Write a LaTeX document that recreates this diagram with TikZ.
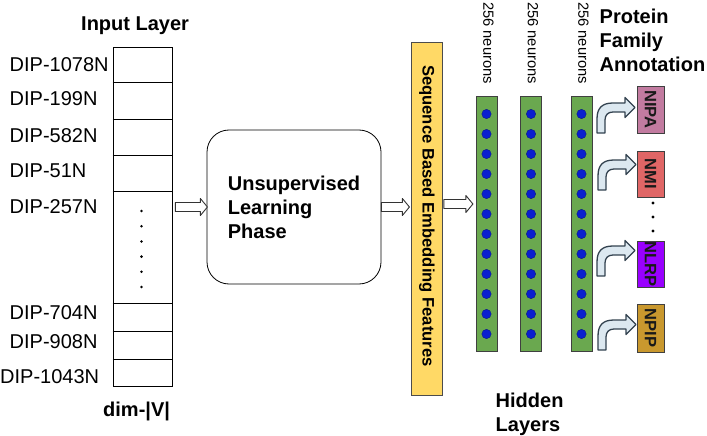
\documentclass[tikz,border=0pt]{standalone}
\usepackage{fontspec}
\setmainfont{Liberation Sans}
\usetikzlibrary{arrows.meta,calc}

\definecolor{embyellow}{HTML}{FFD966}
\definecolor{hidgreen}{HTML}{6AA84F}
\definecolor{neublue}{HTML}{0A1ECF}
\definecolor{nipacol}{HTML}{C27BA0}
\definecolor{nmicol}{HTML}{E06666}
\definecolor{nlrpcol}{HTML}{9900FF}
\definecolor{npipcol}{HTML}{C9982E}
\definecolor{bentfill}{HTML}{DCE8F0}
\definecolor{bentline}{HTML}{33424F}

\tikzset{
  bentarr/.pic={
    \path[bent] (0,0) -- (0,-14) .. controls (0,-25) and (5,-30) .. (16,-30)
      -- (28,-30) -- (28,-35.5) -- (38,-25.5) -- (28,-15.5) -- (28,-21)
      -- (16,-21) .. controls (11,-21) and (8,-18) .. (8,-13) -- (8,0) -- cycle;
  },
  hollowarr/.pic={
    \path[hollow] (0,-4.5) -- (#1-7,-4.5) -- (#1-7,-8.5) -- (#1,0)
      -- (#1-7,8.5) -- (#1-7,4.5) -- (0,4.5) -- cycle;
  }
}

\begin{document}
\begin{tikzpicture}[x=1pt,y=-1pt,
  every node/.style={inner sep=0pt},
  dip/.style={anchor=base west,font=\fontsize{20}{24}\selectfont},
  title/.style={align=left,font=\fontsize{20}{24}\selectfont\bfseries},
  hollow/.style={draw=black!80,fill=white,line width=0.9pt,line join=round},
  layer/.style={draw=black!75,fill=hidgreen,line width=0.8pt,minimum width=21pt,minimum height=255pt},
  neuron/.style={fill=neublue,draw=neublue!60!black,line width=0.3pt},
  neurtxt/.style={rotate=-90,font=\fontsize{14.7}{17}\selectfont},
  outbox/.style={draw=black!75,line width=0.8pt,minimum width=27pt},
  outtxt/.style={rotate=-90,font=\fontsize{16.5}{20}\selectfont\bfseries,text=black!90},
  bent/.style={draw=bentline,fill=bentfill,line width=1.3pt,line join=round},
]
\useasboundingbox (0,0) rectangle (707,436);

% input layer
\node[title,anchor=base west] (inl) at (81,31) {Input Layer};
\node[draw,line width=0.8pt,minimum width=59pt,minimum height=339pt] (inp) at (142.5,216.5) {};
\foreach \y in {82,119,155,191,303,331,359}
  \draw[line width=0.8pt] (inp.west |- 0,\y) -- (inp.east |- 0,\y);
\foreach \k in {0,...,5}
  \fill (141.5,{211+15.2*\k}) circle (1.4pt);
\foreach \t/\y [count=\i] in {DIP-1078N/71,DIP-199N/106,DIP-582N/142,DIP-51N/177,DIP-257N/213,DIP-704N/319,DIP-908N/348}
  \node[dip] (dip\i) at (9.5,\y) {\t};
\node[dip] (dip8) at (0,383) {DIP-1043N};
\node[title,anchor=base west] (dim) at (103,416) {dim-|V|};

% unsupervised phase
\node[draw,rounded corners=22pt,line width=0.8pt,minimum width=174pt,minimum height=154pt,
  title] (ulp) at (294,207) {Unsupervised\\Learning\\Phase};

% embedding features
\node[draw=black!70,fill=embyellow,line width=0.8pt,minimum width=31pt,minimum height=353pt] (emb) at (426.5,218.5) {};
\node[rotate=-90,font=\fontsize{16.6}{20}\selectfont\bfseries] (embtxt) at (427,216) {Sequence Based Embedding Features};
\coordinate (embout) at ([yshift=14.5pt]emb.east);

\pic[xshift=3pt] at (inp.east |- ulp.west) {hollowarr=32};
\pic at (ulp.east) {hollowarr=28};

% hidden layers
\foreach \x/\n in {486.5/h1,531/h2,581.5/h3} {
  \node[layer] (\n) at (\x,223.5) {};
  \foreach \k in {0,...,11}
    \fill[neuron] (\x,{114+20*\k}) circle (4.7pt);
  \node[neurtxt] (\n txt) at (\x+2,43) {256 neurons};
}
\pic[xshift=1.5pt] at (embout) {hollowarr=29};
\node[title,anchor=north west] (hid) at (495.5,392.4) {Hidden\\Layers};

% protein family annotation
\node[title,anchor=north west] (pfa) at (599.5,8.7) {Protein\\Family\\Annotation};
\node[outbox,fill=nipacol,minimum height=47pt] (nipa) at (650.5,109.5) {};
\node[outtxt] (nipatxt) at (nipa) {NIPA};
\node[outbox,fill=nmicol,minimum height=46pt] (nmi) at (650.5,174) {};
\node[outtxt] (nmitxt) at (nmi) {NMI};
\node[outbox,fill=nlrpcol,minimum height=46pt] (nlrp) at (650.5,264) {};
\node[outtxt] (nlrptxt) at (nlrp) {NLRP};
\node[outbox,fill=npipcol,minimum height=48pt] (npip) at (650.5,328) {};
\node[outtxt] (npiptxt) at (npip) {NPIP};
\foreach \y in {203,217,231}
  \fill (653,\y) circle (1.6pt);

\pic at (597,133) {bentarr};
\pic at (598,190) {bentarr};
\pic at (597,276) {bentarr};
\pic at (598,350) {bentarr};

\end{tikzpicture}
\end{document}
